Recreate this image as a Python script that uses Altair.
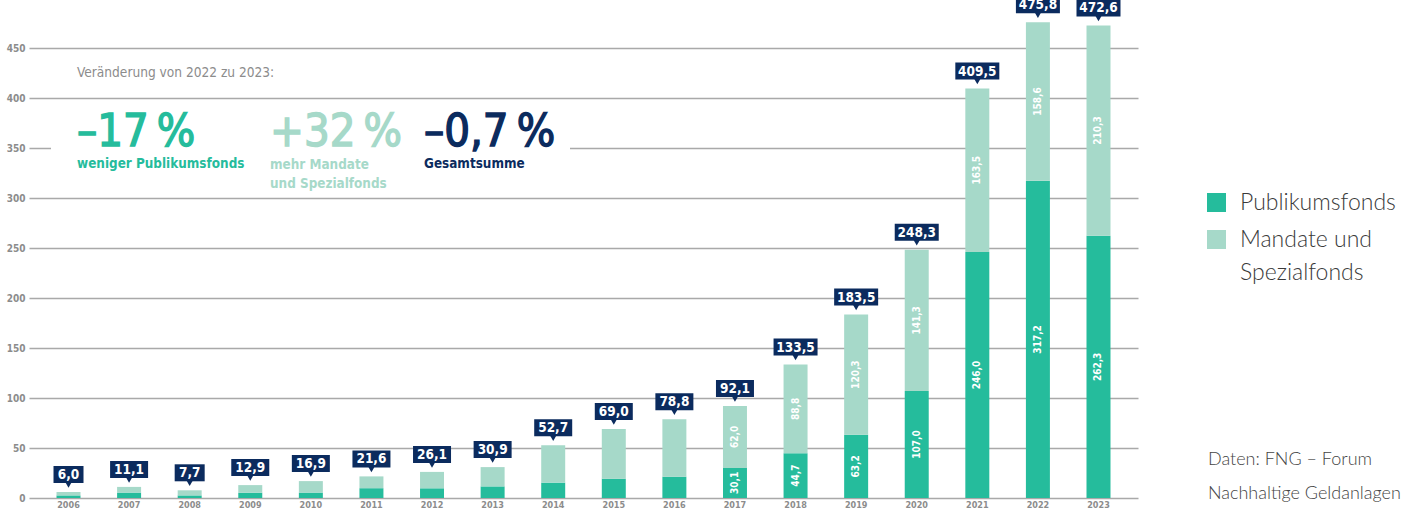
import altair as alt
import pandas as pd

# ---------------- data ----------------
years = [str(y) for y in range(2006, 2024)]
publikum = [2.6, 5.4, 2.6, 5.3, 5.4, 9.8, 9.7, 11.6, 15.4, 19.3, 21.3,
            30.1, 44.7, 63.2, 107.0, 246.0, 317.2, 262.3]
mandate = [3.4, 5.7, 5.1, 7.6, 11.5, 11.8, 16.4, 19.3, 37.3, 49.7, 57.5,
           62.0, 88.8, 120.3, 141.3, 163.5, 158.6, 210.3]
totals = [6.0, 11.1, 7.7, 12.9, 16.9, 21.6, 26.1, 30.9, 52.7, 69.0, 78.8,
          92.1, 133.5, 183.5, 248.3, 409.5, 475.8, 472.6]
y_ticks = [0, 50, 100, 150, 200, 250, 300, 350, 400, 450]
series = ["Publikumsfonds", "Mandate und Spezialfonds"]
labelled_from = 2017  # segment values are printed from this year on

# ---------------- styles ----------------
GREEN = "#25bc9c"
LIGHT = "#a6d9c9"
NAVY = "#0b2b5e"
GREY = "#8c8c8c"
GRID = "#a9a9a9"
COND = "DejaVu Sans Condensed, Liberation Sans Narrow, sans-serif"
THIN = "Lato, Roboto, sans-serif"

W, H = 1109, 498
PAD_L, PAD_T = 29, 0


def fmt(v):
    return f"{v:.1f}".replace(".", ",")


long_df = pd.DataFrame({
    "year": years * 2,
    "series": [series[0]] * len(years) + [series[1]] * len(years),
    "value": publikum + mandate,
    "ord": [0] * len(years) + [1] * len(years),
})

wide_df = pd.DataFrame({
    "year": years,
    "pub": publikum,
    "mand": mandate,
    "pub_lbl": [fmt(v) for v in publikum],
    "mand_lbl": [fmt(v) for v in mandate],
    "yr": [int(y) for y in years],
})

tot_df = pd.DataFrame({
    "year": years,
    "total": totals,
    "lbl": [fmt(v) for v in totals],
})

x_enc = alt.X(
    "year:N",
    scale=alt.Scale(paddingInner=0.604, paddingOuter=0.454),
    axis=alt.Axis(title=None, labelFont=COND, labelFontSize=9, labelFontWeight="bold",
                  labelColor=GREY, ticks=False, domain=False, labelPadding=2,
                  labelAngle=0, grid=False),
)
y_scale = alt.Scale(domain=[0, 498], nice=False, zero=True)

bars = alt.Chart(long_df).mark_bar().encode(
    x=x_enc,
    y=alt.Y("value:Q", stack="zero", scale=y_scale,
            axis=alt.Axis(values=y_ticks, title=None, labelFont=COND, labelFontSize=10,
                          labelFontWeight="bold", labelColor=GREY, ticks=False,
                          domain=False, labelPadding=4, grid=True, gridColor=GRID,
                          gridWidth=1.3)),
    color=alt.Color("series:N", scale=alt.Scale(domain=series, range=[GREEN, LIGHT]),
                    legend=None),
    order=alt.Order("ord:Q", sort="ascending"),
)

seg = alt.Chart(wide_df).transform_filter(
    f"datum.yr >= {labelled_from}"
).transform_calculate(
    pub_mid="datum.pub / 2",
    mand_mid="datum.pub + datum.mand / 2",
)
seg_pub = seg.mark_text(angle=270, color="white", font=COND, fontSize=10,
                        fontWeight="bold", align="center", baseline="middle").encode(
    x="year:N", y=alt.Y("pub_mid:Q", scale=y_scale), text="pub_lbl:N")
seg_mand = seg.mark_text(angle=270, color="white", font=COND, fontSize=10,
                         fontWeight="bold", align="center", baseline="middle").encode(
    x="year:N", y=alt.Y("mand_mid:Q", scale=y_scale), text="mand_lbl:N")

tot = alt.Chart(tot_df).transform_calculate(
    bw="length(datum.lbl) >= 5 ? 44 : (length(datum.lbl) == 4 ? 38 : 30)"
)
box = tot.mark_bar(color=NAVY, yOffset=-9, y2Offset=-26).encode(
    x="year:N", y=alt.Y("total:Q", scale=y_scale), y2="total:Q",
    size=alt.Size("bw:Q", scale=None, legend=None))
pointer = tot.mark_point(shape="triangle-down", filled=True, size=40, color=NAVY,
                         opacity=1, yOffset=-7).encode(
    x="year:N", y=alt.Y("total:Q", scale=y_scale))
box_txt = tot.mark_text(color="white", font=COND, fontSize=13.5, fontWeight="bold",
                        yOffset=-17, baseline="middle", align="center").encode(
    x="year:N", y=alt.Y("total:Q", scale=y_scale), text="lbl:N")

# ---------------- annotations ----------------
cover = alt.Chart(pd.DataFrame({"a": [0]})).mark_rect(color="white").encode(
    x=alt.value(51 - PAD_L), x2=alt.value(570 - PAD_L),
    y=alt.value(101), y2=alt.value(196))


def txt(text, x, y, size, color, weight="normal", font=COND, baseline="middle", heavy=0):
    extra = {"stroke": color, "strokeWidth": heavy} if heavy else {}
    return alt.Chart(pd.DataFrame({"t": [text]})).mark_text(
        align="left", baseline=baseline, font=font, fontSize=size, fontWeight=weight,
        color=color, **extra).encode(x=alt.value(x - PAD_L), y=alt.value(y), text="t:N")


ann = [
    txt("Veränderung von 2022 zu 2023:", 77, 73, 13.6, GREY, "normal"),
    txt("–17\u2009%", 77, 146, 45, GREEN, "normal", baseline="alphabetic", heavy=1.4),
    txt("weniger Publikumsfonds", 77, 164, 13.4, GREEN, "bold"),
    txt("+32\u2009%", 270, 146, 45, LIGHT, "normal", baseline="alphabetic", heavy=1.4),
    txt("mehr Mandate", 270, 165, 13.4, LIGHT, "bold"),
    txt("und Spezialfonds", 270, 184, 13.4, LIGHT, "bold"),
    txt("–0,7\u2009%", 424, 146, 45, NAVY, "normal", baseline="alphabetic", heavy=1.4),
    txt("Gesamtsumme", 424, 164, 13.4, NAVY, "bold"),
    txt("Publikumsfonds", 1240, 203, 23, "#3a3a3a", 300, font=THIN),
    txt("Mandate und", 1240, 240, 23, "#3a3a3a", 300, font=THIN),
    txt("Spezialfonds", 1240, 273, 23, "#3a3a3a", 300, font=THIN),
    txt("Daten: FNG – Forum", 1208, 460, 18, "#444444", 300, font=THIN),
    txt("Nachhaltige Geldanlagen", 1208, 494, 18, "#444444", 300, font=THIN),
]


def square(color, y):
    return alt.Chart(pd.DataFrame({"a": [0]})).mark_rect(color=color).encode(
        x=alt.value(1207 - PAD_L), x2=alt.value(1226 - PAD_L),
        y=alt.value(y), y2=alt.value(y + 19))


legend = [square(GREEN, 193), square(LIGHT, 230)]

chart = alt.layer(
    bars, cover, seg_pub, seg_mand, box, pointer, box_txt, *ann, *legend
).properties(
    width=W, height=H,
    autosize=alt.AutoSizeParams(type="none"),
    padding={"left": PAD_L, "top": PAD_T, "right": 1416 - PAD_L - W, "bottom": 511 - PAD_T - H},
    background="white",
).configure_view(stroke=None)

chart.save("out.html", embed_options={"renderer": "svg", "actions": False})
